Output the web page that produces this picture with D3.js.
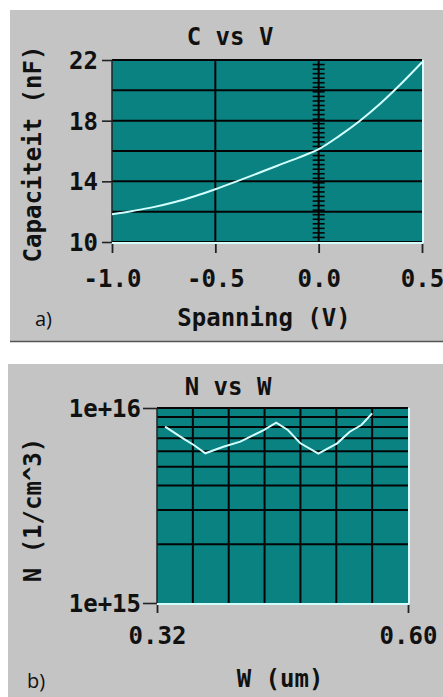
<!DOCTYPE html>
<html><head><meta charset="utf-8">
<script src="https://cdn.jsdelivr.net/npm/d3@7"></script>
<style>
html,body{margin:0;padding:0;background:#fff;}
svg{display:block;}
.mono{font-family:"DejaVu Sans Mono",monospace;font-weight:bold;font-size:24px;fill:#111;}
.lab{font-family:"Open Sans","Liberation Sans",sans-serif;font-size:20px;fill:#111;}
</style></head>
<body>
<svg id="c" width="443" height="697"></svg>
<script>
// Panel a data: C vs V
const voltage = [-1.0,-0.9,-0.8,-0.7,-0.6,-0.5,-0.4,-0.3,-0.2,-0.1,0.0,0.1,0.2,0.3,0.4,0.5];
const capacitance = [11.83,12.05,12.3,12.62,13.02,13.48,13.98,14.5,15.03,15.55,16.12,17.0,18.0,19.15,20.45,21.85];
const xTicksA = [-1.0,-0.5,0.0,0.5];
const xTickLabelsA = ["-1.0","-0.5","0.0","0.5"];
const yTicksA = [10,14,18,22];
const yGridA = [10,12,14,16,18,20,22];
const xGridA = [-0.5,0.0];

// Panel b data: N vs W
const width_um = [0.329,0.349,0.361,0.374,0.394,0.413,0.439,0.453,0.466,0.480,0.500,0.521,0.535,0.548,0.560];
const doping = [8.02e15,6.99e15,6.46e15,5.86e15,6.33e15,6.72e15,7.71e15,8.41e15,7.71e15,6.59e15,5.84e15,6.59e15,7.56e15,8.18e15,9.39e15];
const xTicksB = [0.32,0.60];
const xTickLabelsB = ["0.32","0.60"];
const yTicksB = [1e15,1e16];
const yTickLabelsB = ["1e+15","1e+16"];
const xGridB = [0.36,0.40,0.44,0.48,0.52,0.56];
const yGridB = [2e15,3e15,4e15,5e15,6e15,7e15,8e15,9e15,1e16];

const svg = d3.select("#c");
const GRAY = "#c4c4c4", TEAL = "#0a8282", LINE = "#d4ffff";

// Panel backgrounds
svg.append("rect").attr("x",10).attr("y",10).attr("width",433).attr("height",331).attr("fill",GRAY);
svg.append("line").attr("x1",10).attr("x2",443).attr("y1",341.5).attr("y2",341.5).attr("stroke","#555").attr("stroke-width",1.5);
svg.append("rect").attr("x",8).attr("y",364).attr("width",435).attr("height",333).attr("fill",GRAY);

function panel(o){
  const g = svg.append("g");
  const [x0,x1] = o.x.range(), [y0,y1] = o.y.range();
  g.append("rect").attr("x",x0).attr("y",y1).attr("width",x1-x0).attr("height",y0-y1).attr("fill",TEAL);
  // grid
  g.selectAll(null).data(o.yGrid).join("line")
    .attr("x1",x0).attr("x2",x1).attr("y1",d=>o.y(d)).attr("y2",d=>o.y(d))
    .attr("stroke","#050505").attr("stroke-width",2);
  g.selectAll(null).data(o.xGrid).join("line")
    .attr("x1",d=>o.x(d)).attr("x2",d=>o.x(d)).attr("y1",y1).attr("y2",y0)
    .attr("stroke","#050505").attr("stroke-width",2);
  if(o.ladder){
    g.selectAll(null).data(o.ladder).join("line")
      .attr("x1",o.x(0)-6).attr("x2",o.x(0)+6).attr("y1",d=>o.y(d)).attr("y2",d=>o.y(d))
      .attr("stroke","#050505").attr("stroke-width",1.6);
  }
  // left edge
  g.append("line").attr("x1",x0).attr("x2",x0).attr("y1",y1).attr("y2",y0).attr("stroke","#222").attr("stroke-width",1.5);
  // curve
  g.append("path").datum(o.data).attr("fill","none").attr("stroke",LINE).attr("stroke-width",2)
    .attr("d",d3.line().x(d=>o.x(d[0])).y(d=>o.y(d[1])).curve(o.curve));
  // light border bottom / right
  g.append("line").attr("x1",x0).attr("x2",x1+1).attr("y1",y0+1).attr("y2",y0+1).attr("stroke",LINE).attr("stroke-width",2);
  g.append("line").attr("x1",x1+1).attr("x2",x1+1).attr("y1",y1).attr("y2",y0+1).attr("stroke",LINE).attr("stroke-width",2);
  // y axis
  const ya = g.append("g").attr("transform",`translate(${x0},0)`)
    .call(d3.axisLeft(o.y).tickValues(o.yTicks).tickSize(o.yTickSize).tickPadding(o.yPad).tickFormat((d,i)=>o.yLabels[i]));
  ya.select(".domain").remove();
  ya.selectAll(".tick line").attr("stroke","#222").attr("stroke-width",1.6);
  ya.selectAll(".tick text").attr("class","mono").attr("font-size",null).attr("font-family",null).attr("dy","0.36em");
  // x axis
  const xa = g.append("g").attr("transform",`translate(0,${y0+2})`)
    .call(d3.axisBottom(o.x).tickValues(o.xTicks).tickSize(o.xTickSize).tickPadding(o.xPad).tickFormat((d,i)=>o.xLabels[i]));
  xa.select(".domain").remove();
  xa.selectAll(".tick line").attr("stroke","#222").attr("stroke-width",1.8);
  xa.selectAll(".tick text").attr("class","mono").attr("font-size",null).attr("font-family",null);
  // texts
  g.append("text").attr("class","mono").attr("x",o.title[1]).attr("y",o.title[2]).attr("text-anchor","middle").text(o.title[0]);
  g.append("text").attr("class","mono").attr("x",o.xlab[1]).attr("y",o.xlab[2]).attr("text-anchor","middle").text(o.xlab[0]);
  g.append("text").attr("class","mono").attr("text-anchor","middle")
    .attr("transform",`translate(${o.ylab[1]},${o.ylab[2]}) rotate(-90)`).text(o.ylab[0]);
  g.append("text").attr("class","lab").attr("x",o.tag[1]).attr("y",o.tag[2]).text(o.tag[0]);
}

panel({
  x: d3.scaleLinear([-1,0.5],[112,422]),
  y: d3.scaleLinear([10,22],[242,60]),
  yGrid: yGridA, xGrid: xGridA,
  ladder: d3.range(10.3,22,0.3),
  data: voltage.map((v,i)=>[v,capacitance[i]]),
  curve: d3.curveCatmullRom.alpha(0.5),
  yTicks: yTicksA, yLabels: yTicksA.map(String), yTickSize: 10, yPad: 4,
  xTicks: xTicksA, xLabels: xTickLabelsA, xTickSize: 9, xPad: 17,
  title: ["C vs V",230,45],
  xlab: ["Spanning (V)",264,326],
  ylab: ["Capaciteit (nF)",41,154],
  tag: ["a)",35,326]
});

panel({
  x: d3.scaleLinear([0.32,0.60],[157,408]),
  y: d3.scaleLog([1e15,1e16],[603,408]),
  yGrid: yGridB, xGrid: xGridB,
  ladder: null,
  data: width_um.map((w,i)=>[w,doping[i]]),
  curve: d3.curveLinear,
  yTicks: yTicksB, yLabels: yTickLabelsB, yTickSize: 14, yPad: 2,
  xTicks: xTicksB, xLabels: xTickLabelsB, xTickSize: 8, xPad: 14,
  title: ["N vs W",228,395],
  xlab: ["W (um)",280,687],
  ylab: ["N (1/cm^3)",41,510],
  tag: ["b)",27,688]
});
</script>
</body></html>
